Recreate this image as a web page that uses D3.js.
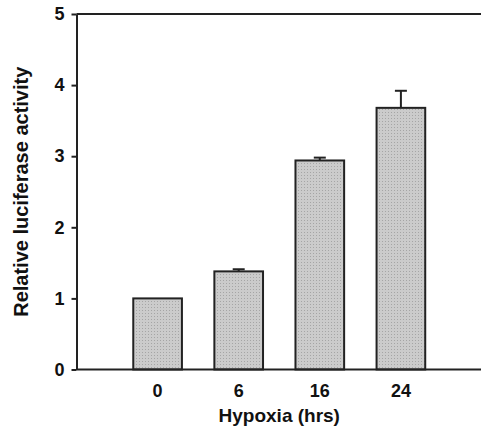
<!DOCTYPE html>
<html>
<head>
<meta charset="utf-8">
<script src="https://cdn.jsdelivr.net/npm/d3@7"></script>
<style>
  body { margin: 0; background: #fff; }
  svg text { font-family: Arial, "Liberation Sans", sans-serif; font-weight: bold; fill: #111; }
</style>
</head>
<body>
<div id="chart"></div>
<script>
// Hypoxia time points (hrs)
const categories = ["0", "6", "16", "24"];
// Mean relative luciferase activity
const values = [1.0, 1.38, 2.94, 3.68];
// Upper error (SE)
const errors = [0, 0.03, 0.04, 0.24];
// Y tick labels
const yTicks = [0, 1, 2, 3, 4, 5];

const width = 481, height = 430;
const margin = {top: 14, right: 0, bottom: 60.5, left: 76.5};

const svg = d3.select("#chart")
    .append("svg")
    .attr("width", width)
    .attr("height", height);

// Dotted gray texture for bars
const defs = svg.append("defs");
const pat = defs.append("pattern")
    .attr("id", "dots")
    .attr("width", 3)
    .attr("height", 3)
    .attr("patternUnits", "userSpaceOnUse");
pat.append("rect").attr("width", 3).attr("height", 3).attr("fill", "#cbcbcb");
pat.append("rect").attr("x", 1).attr("y", 1).attr("width", 1).attr("height", 1).attr("fill", "#a5a5a5");

const x = d3.scaleBand()
    .domain(categories)
    .range([margin.left, 482])
    .paddingInner(0.4)
    .paddingOuter(0.7);

const y = d3.scaleLinear()
    .domain([0, 5])
    .range([height - margin.bottom, margin.top]);

// Top frame line
svg.append("line")
    .attr("x1", margin.left).attr("x2", width)
    .attr("y1", y(5)).attr("y2", y(5))
    .attr("stroke", "#222").attr("stroke-width", 2);

// Bars
svg.append("g")
    .selectAll("rect")
    .data(values)
    .join("rect")
    .attr("x", (d, i) => x(categories[i]))
    .attr("y", d => y(d))
    .attr("width", x.bandwidth())
    .attr("height", d => y(0) - y(d))
    .attr("fill", "url(#dots)")
    .attr("stroke", "#222")
    .attr("stroke-width", 2);

// Error bars (upper only)
const err = svg.append("g")
    .selectAll("g")
    .data(values.map((v, i) => ({v, e: errors[i], c: categories[i]})).filter(d => d.e > 0))
    .join("g")
    .attr("stroke", "#222")
    .attr("stroke-width", 2);

err.append("line")
    .attr("x1", d => x(d.c) + x.bandwidth() / 2)
    .attr("x2", d => x(d.c) + x.bandwidth() / 2)
    .attr("y1", d => y(d.v))
    .attr("y2", d => y(d.v + d.e));

err.append("line")
    .attr("x1", d => x(d.c) + x.bandwidth() / 2 - 6)
    .attr("x2", d => x(d.c) + x.bandwidth() / 2 + 6)
    .attr("y1", d => y(d.v + d.e))
    .attr("y2", d => y(d.v + d.e));

// Y axis
svg.append("g")
    .attr("transform", `translate(${margin.left},0)`)
    .call(d3.axisLeft(y).tickValues(yTicks).tickFormat(d3.format("d"))
        .tickSize(5).tickSizeOuter(0).tickPadding(7))
    .call(g => g.selectAll("path, line").attr("stroke", "#222").attr("stroke-width", 2))
    .call(g => g.selectAll("text").attr("font-size", 18).attr("font-family", null));

// X axis
svg.append("g")
    .attr("transform", `translate(0,${y(0)})`)
    .call(d3.axisBottom(x).tickSize(0).tickSizeOuter(0).tickPadding(15))
    .call(g => g.select(".domain").attr("d", `M${margin.left},0H${width}`)
        .attr("stroke", "#222").attr("stroke-width", 2))
    .call(g => g.selectAll("text").attr("font-size", 18).attr("font-family", null));

// Axis titles
svg.append("text")
    .attr("x", (margin.left + 482) / 2)
    .attr("y", 422)
    .attr("text-anchor", "middle")
    .attr("font-size", 19)
    .text("Hypoxia (hrs)");

svg.append("text")
    .attr("transform", `translate(28,${(y(0) + y(5)) / 2}) rotate(-90)`)
    .attr("text-anchor", "middle")
    .attr("font-size", 20)
    .text("Relative luciferase activity");
</script>
</body>
</html>
